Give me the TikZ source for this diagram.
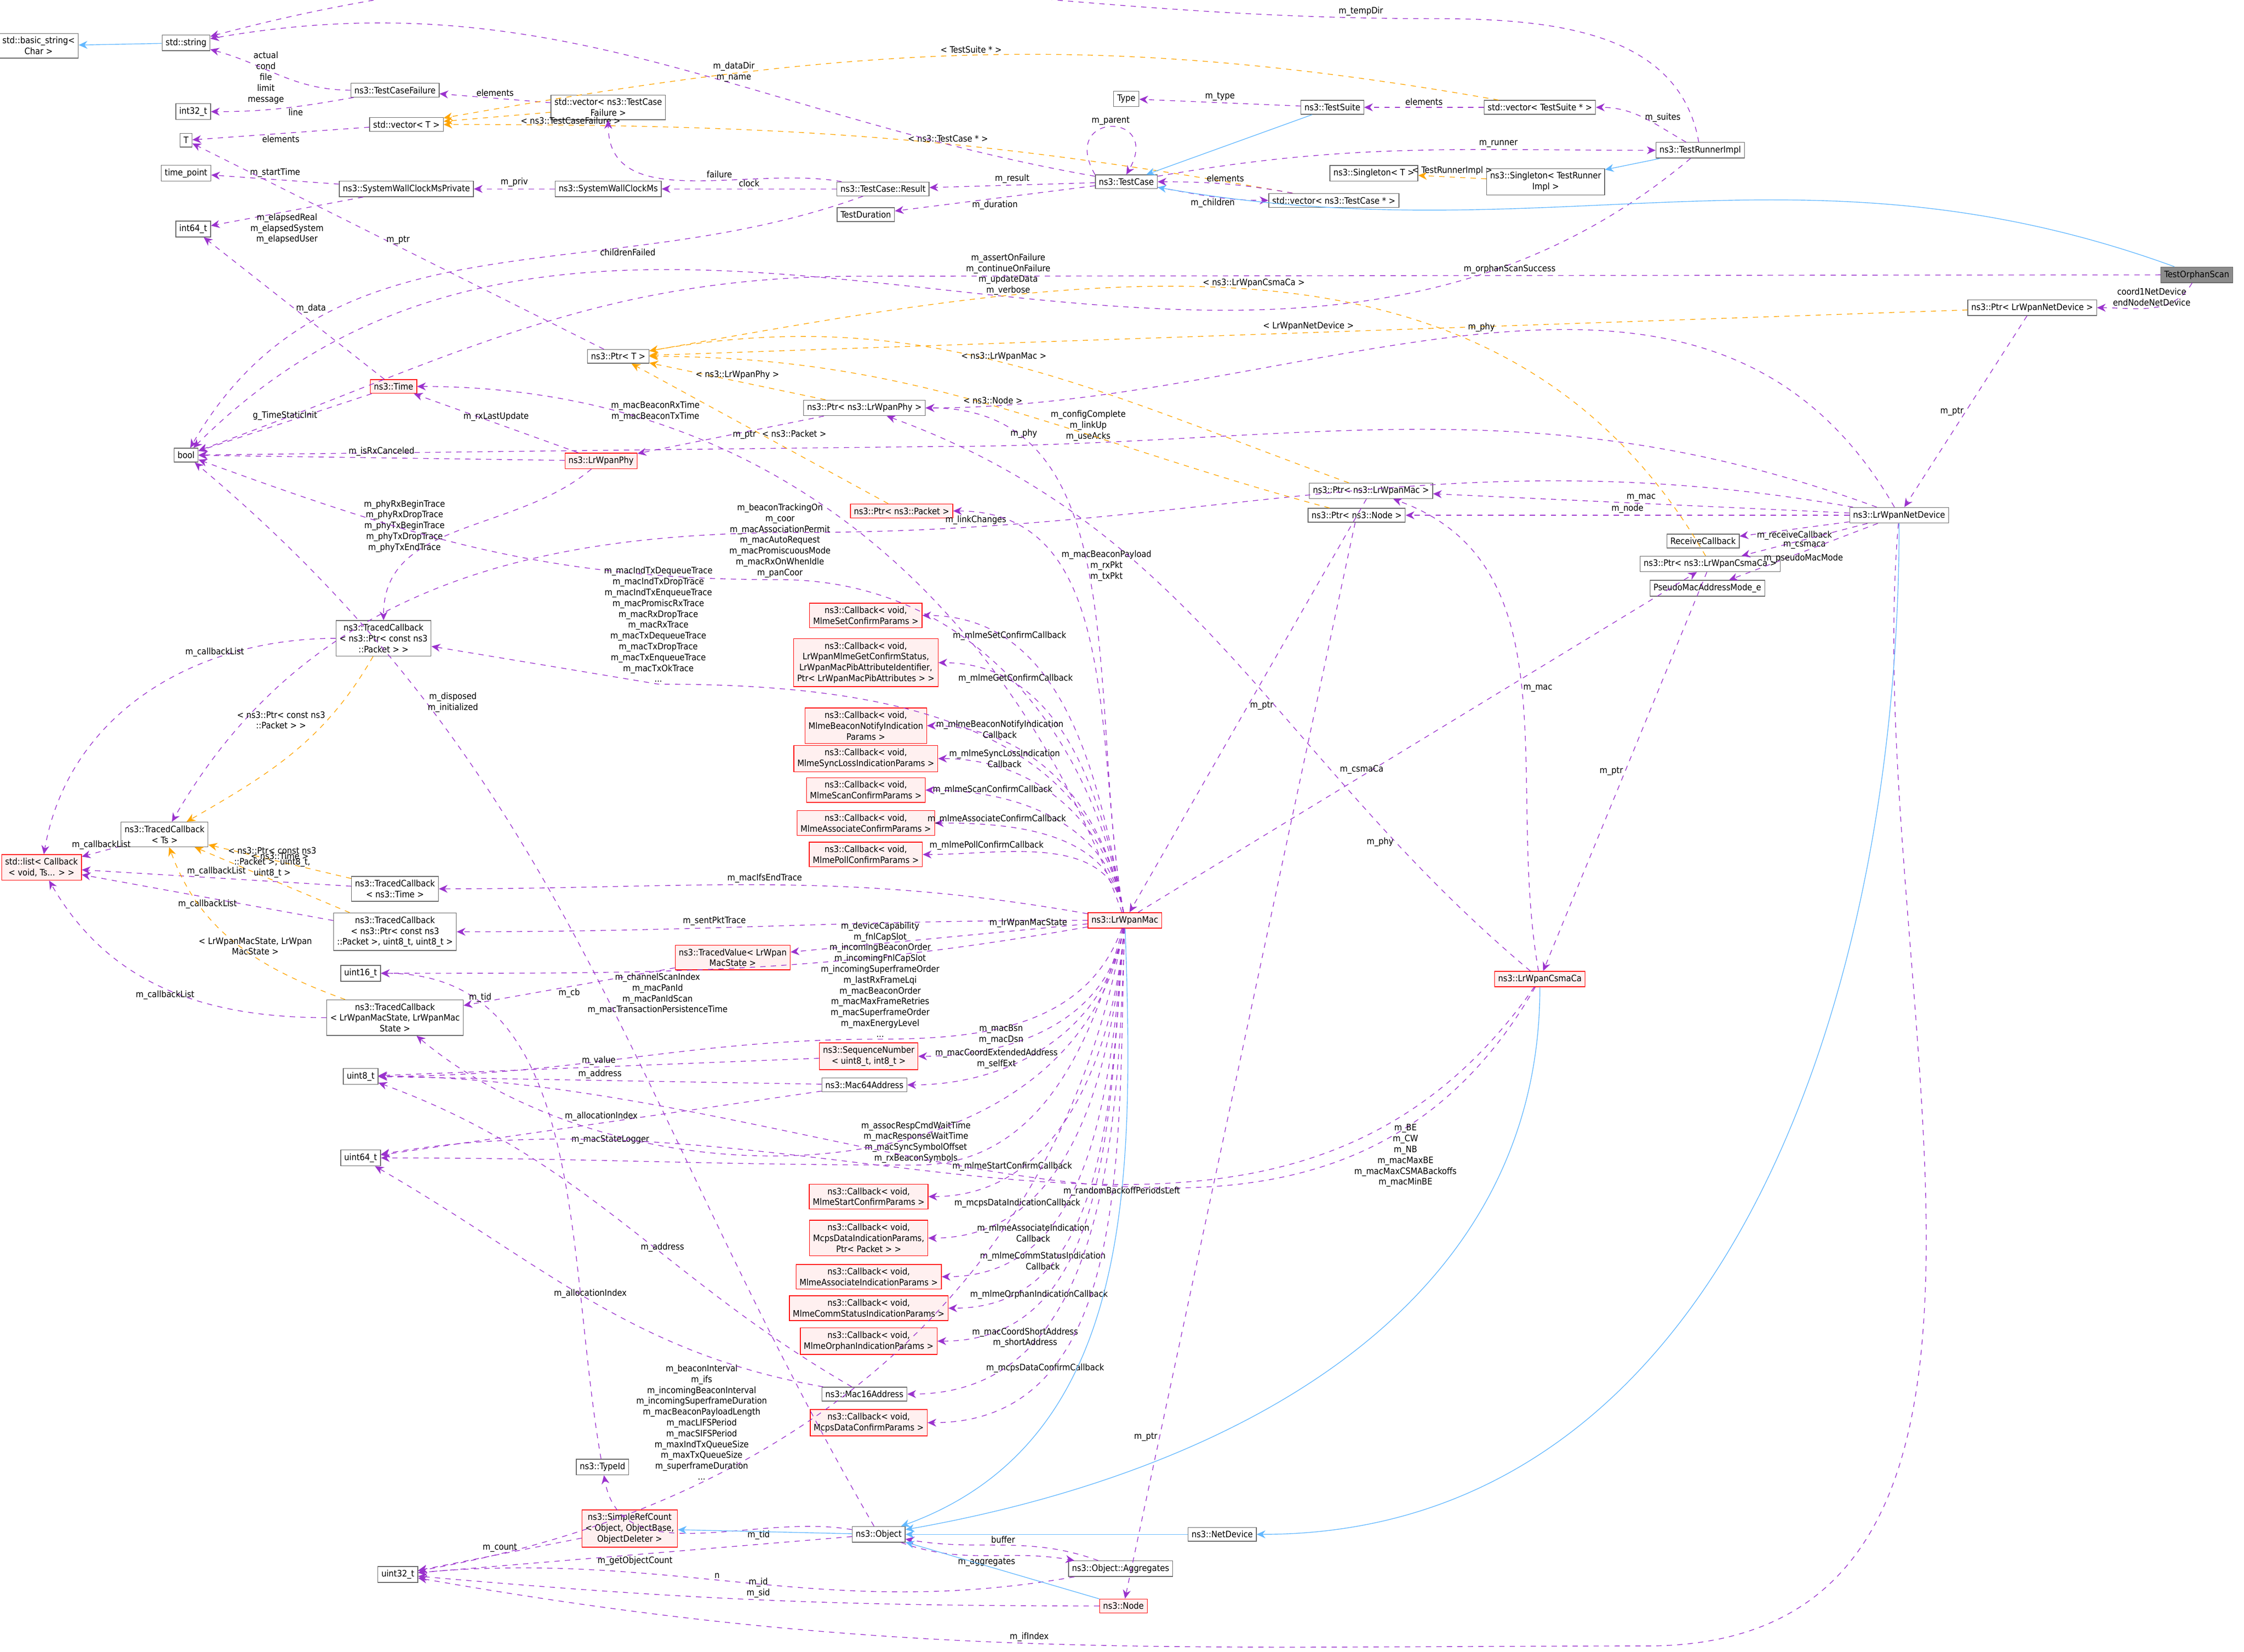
\documentclass[tikz,border=0pt]{standalone}
\usepackage{fontspec}
\setmainfont{DejaVu Sans Condensed}
\usetikzlibrary{arrows.meta}
\definecolor{depcol}{HTML}{9A32CD}
\definecolor{inhcol}{HTML}{63B8FF}
\definecolor{tplcol}{HTML}{FFA500}
\definecolor{redbox}{HTML}{FF0000}
\definecolor{redfill}{HTML}{FFF0F0}
\tikzset{
  cls/.style={draw=black!60, fill=white, align=center, inner sep=2pt, font=\fontsize{5.1}{6.2}\selectfont},
  rcls/.style={cls, draw=redbox, fill=redfill},
  cur/.style={cls, fill=black!45},
  dep/.style={draw=depcol, dashed, -{Stealth[length=5pt,width=4.5pt]}},
  inh/.style={draw=inhcol, -{Stealth[length=5pt,width=4.5pt]}},
  tpl/.style={draw=tplcol, dashed, -{Stealth[length=5pt,width=4.5pt]}},
  lbl/.style={align=center, font=\fontsize{5.1}{6.2}\selectfont, inner sep=1pt}
}
\begin{document}
\begin{tikzpicture}[x=0.02881cm, y=-0.02881cm]
\useasboundingbox (0,0) rectangle (1568,1154);
% classes
\node[cls] (bstr) at (27,32) {std::basic\_string<\\Char >};
\node[cls] (str) at (130,30) {std::string};
\node[cls] (int32) at (135,78) {int32\_t};
\node[cls] (tcf) at (276,63) {ns3::TestCaseFailure};
\node[cls] (vect) at (284,87) {std::vector< T >};
\node[cls] (T) at (130,98) {T};
\node[cls] (tpoint) at (130,121) {time\_point};
\node[cls] (swcmp) at (284,132) {ns3::SystemWallClockMsPrivate};
\node[cls] (int64) at (135,160) {int64\_t};
\node[cls] (vectcf) at (425,75) {std::vector< ns3::TestCase\\Failure >};
\node[cls] (swcm) at (425,132) {ns3::SystemWallClockMs};
\node[cls] (result) at (617,132) {ns3::TestCase::Result};
\node[cls] (tdur) at (605,150) {TestDuration};
\node[cls] (type) at (787,69) {Type};
\node[cls] (tsuite) at (931,75) {ns3::TestSuite};
\node[cls] (vects) at (1076,75) {std::vector< TestSuite * >};
\node[cls] (tcase) at (787,127) {ns3::TestCase};
\node[cls] (vectc) at (932,140) {std::vector< ns3::TestCase * >};
\node[cls] (singt) at (960,121) {ns3::Singleton< T >};
\node[cls] (singtri) at (1080,127) {ns3::Singleton< TestRunner\\Impl >};
\node[cls] (tri) at (1188,105) {ns3::TestRunnerImpl};
\node[cur] (orphan) at (1535,192) {TestOrphanScan};
\node[cls] (ptrnd) at (1420,215) {ns3::Ptr< LrWpanNetDevice >};
\node[cls] (bool) at (130,318) {bool};
\node[cls] (ptrt) at (432,249) {ns3::Ptr< T >};
\node[rcls] (time) at (275,270) {ns3::Time};
\node[rcls] (phy) at (420,322) {ns3::LrWpanPhy};
\node[cls] (ptrphy) at (604,285) {ns3::Ptr< ns3::LrWpanPhy >};
\node[rcls] (ptrpkt) at (630,357) {ns3::Ptr< ns3::Packet >};
\node[cls] (ptrmac) at (958,343) {ns3::Ptr< ns3::LrWpanMac >};
\node[cls] (ptrnode) at (948,360) {ns3::Ptr< ns3::Node >};
\node[cls] (rcb) at (1190,378) {ReceiveCallback};
\node[cls] (ptrcsma) at (1195,394) {ns3::Ptr< ns3::LrWpanCsmaCa >};
\node[cls] (pseudo) at (1193,411) {PseudoMacAddressMode\_e};
\node[cls] (netdev) at (1327,360) {ns3::LrWpanNetDevice};
\node[cls] (tcpkt) at (268,446) {ns3::TracedCallback\\< ns3::Ptr< const ns3\\::Packet > >};
\node[rcls] (cbset) at (605,430) {ns3::Callback< void,\\MlmeSetConfirmParams >};
\node[rcls] (cbget) at (605,463) {ns3::Callback< void,\\LrWpanMlmeGetConfirmStatus,\\LrWpanMacPibAttributeIdentifier,\\Ptr< LrWpanMacPibAttributes > >};
\node[rcls] (cbbeacon) at (605,507) {ns3::Callback< void,\\MlmeBeaconNotifyIndication\\Params >};
\node[rcls] (cbsync) at (605,530) {ns3::Callback< void,\\MlmeSyncLossIndicationParams >};
\node[rcls] (cbscan) at (605,552) {ns3::Callback< void,\\MlmeScanConfirmParams >};
\node[rcls] (cbassoc) at (605,575) {ns3::Callback< void,\\MlmeAssociateConfirmParams >};
\node[rcls] (cbpoll) at (605,597) {ns3::Callback< void,\\MlmePollConfirmParams >};
\node[cls] (tcts) at (115,583) {ns3::TracedCallback\\< Ts >};
\node[rcls] (list) at (29,606) {std::list< Callback\\< void, Ts... > >};
\node[cls] (tctime) at (276,621) {ns3::TracedCallback\\< ns3::Time >};
\node[cls] (tcpkt88) at (276,651) {ns3::TracedCallback\\< ns3::Ptr< const ns3\\::Packet >, uint8\_t, uint8\_t >};
\node[cls] (uint16) at (252,680) {uint16\_t};
\node[rcls] (tv) at (512,669) {ns3::TracedValue< LrWpan\\MacState >};
\node[cls] (tcstate) at (276,711) {ns3::TracedCallback\\< LrWpanMacState, LrWpanMac\\State >};
\node[rcls] (mac) at (786,643) {ns3::LrWpanMac};
\node[rcls] (seq) at (607,738) {ns3::SequenceNumber\\< uint8\_t, int8\_t >};
\node[cls] (uint8) at (252,752) {uint8\_t};
\node[cls] (mac64) at (604,758) {ns3::Mac64Address};
\node[cls] (uint64) at (252,809) {uint64\_t};
\node[rcls] (cbstart) at (607,836) {ns3::Callback< void,\\MlmeStartConfirmParams >};
\node[rcls] (cbdataind) at (607,865) {ns3::Callback< void,\\McpsDataIndicationParams,\\Ptr< Packet > >};
\node[rcls] (cbassocind) at (607,892) {ns3::Callback< void,\\MlmeAssociateIndicationParams >};
\node[rcls] (cbcomm) at (607,914) {ns3::Callback< void,\\MlmeCommStatusIndicationParams >};
\node[rcls] (cborphan) at (607,937) {ns3::Callback< void,\\MlmeOrphanIndicationParams >};
\node[cls] (mac16) at (604,974) {ns3::Mac16Address};
\node[rcls] (cbdataconf) at (607,994) {ns3::Callback< void,\\McpsDataConfirmParams >};
\node[cls] (typeid) at (421,1025) {ns3::TypeId};
\node[rcls] (src) at (440,1068) {ns3::SimpleRefCount\\< Object, ObjectBase,\\ObjectDeleter >};
\node[cls] (obj) at (614,1072) {ns3::Object};
\node[cls] (uint32) at (278,1100) {uint32\_t};
\node[cls] (aggr) at (783,1096) {ns3::Object::Aggregates};
\node[cls] (nd) at (854,1072) {ns3::NetDevice};
\node[rcls] (node) at (785,1122) {ns3::Node};
\node[rcls] (csma) at (1076,684) {ns3::LrWpanCsmaCa};
\coordinate (tempbend) at (1000,13);
\coordinate (scanbend) at (600,193);
\coordinate (cfgbend) at (650,312);
\coordinate (linkbend) at (560,372);
\coordinate (ifbend) at (1150,1150);
\coordinate (indbend) at (460,478);
\coordinate (coorbend) at (545,405);
\coordinate (devbend) at (615,726);
\coordinate (assocbend) at (640,814);
% test framework
\draw[inh] (str) -- (bstr);
\draw[dep] (tcf) to[out=180,in=-15] node[lbl,pos=0.45,left]{actual\\cond\\file\\limit\\message} (str);
\draw[dep] (tcf) to[out=190,in=0] node[lbl,pos=0.4,below]{line} (int32);
\draw[dep] (vectcf) -- node[lbl,midway,above]{elements} (tcf);
\draw[tpl] (vectcf) -- node[lbl,pos=0.3,below right]{< ns3::TestCaseFailure >} (vect);
\draw[tpl] (vects) to[out=170,in=10] node[lbl,pos=0.5,above]{< TestSuite * >} (vect);
\draw[tpl] (vectc) to[out=170,in=0] node[lbl,pos=0.4,above]{< ns3::TestCase * >} (vect);
\draw[dep] (vect) -- node[lbl,midway,below]{elements} (T);
\draw[dep] (swcmp) -- node[lbl,midway,above]{m\_startTime} (tpoint);
\draw[dep] (swcmp) -- node[lbl,midway,below]{m\_elapsedReal\\m\_elapsedSystem\\m\_elapsedUser} (int64);
\draw[dep] (swcm) -- node[lbl,midway,above]{m\_priv} (swcmp);
\draw[dep] (result) -- node[lbl,midway,above]{clock} (swcm);
\draw[dep] (result) to[out=170,in=-90] node[lbl,pos=0.4,above]{failure} (vectcf);
\draw[dep] (result) to[out=200,in=60] node[lbl,pos=0.3,below]{childrenFailed} (bool);
\draw[dep] (tcase) -- node[lbl,midway,above]{m\_result} (result);
\draw[dep] (tcase) -- node[lbl,midway,below]{m\_duration} (tdur);
\draw[dep] (tcase) to[out=170,in=10] node[lbl,pos=0.4,above]{m\_dataDir\\m\_name} (str);
\draw[dep] (tcase.north west) to[out=120,in=60,looseness=6] node[lbl,above]{m\_parent} (tcase.north);
\draw[dep] (tcase) to[out=-10,in=180] node[lbl,midway,below]{m\_children} (vectc);
\draw[dep] (vectc) to[out=170,in=0] node[lbl,midway,above]{elements} (tcase);
\draw[dep] (tcase) to[out=10,in=180] node[lbl,pos=0.7,above]{m\_runner} (tri);
\draw[dep] (tsuite) -- node[lbl,midway,above]{m\_type} (type);
\draw[inh] (tsuite) -- (tcase);
\draw[dep] (vects) -- node[lbl,midway,above]{elements} (tsuite);
\draw[dep] (tri) to[out=150,in=0] node[lbl,midway,right]{m\_suites} (vects);
\draw[dep] (tri) to[out=100,in=0] (tempbend) to[out=180,in=15] node[lbl,pos=0.05,above]{m\_tempDir} (str);
\draw[dep] (tri) to[out=220,in=45] node[lbl,pos=0.45,above]{m\_assertOnFailure\\m\_continueOnFailure\\m\_updateData\\m\_verbose} (bool);
\draw[inh] (tri) -- (singtri);
\draw[tpl] (singtri) -- node[lbl,midway,above]{< TestRunnerImpl >} (singt);
% test case
\draw[dep] (orphan) -- node[lbl,midway,above]{m\_orphanScanSuccess} (scanbend) to[out=180,in=20] (bool);
\draw[dep] (orphan) to[out=-120,in=0] node[lbl,midway,above]{coord1NetDevice\\endNodeNetDevice} (ptrnd);
\draw[inh] (orphan) to[out=160,in=-10] (tcase);
\draw[tpl] (ptrnd) -- node[lbl,midway,above]{< LrWpanNetDevice >} (ptrt);
\draw[dep] (ptrnd) -- node[lbl,midway,left]{m\_ptr} (netdev);
% net device
\draw[dep] (netdev) to[out=120,in=0] node[lbl,pos=0.5,above]{m\_phy} (ptrphy);
\draw[dep] (netdev) -- node[lbl,midway,above]{m\_mac} (ptrmac);
\draw[dep] (netdev) -- node[lbl,midway,above]{m\_node} (ptrnode);
\draw[dep] (netdev) -- node[lbl,midway,below]{m\_receiveCallback} (rcb);
\draw[dep] (netdev) -- node[lbl,midway,below]{m\_csmaca} (ptrcsma);
\draw[dep] (netdev) -- node[lbl,midway,below]{m\_pseudoMacMode} (pseudo);
\draw[dep] (netdev) to[out=160,in=0] node[lbl,pos=0.85,above]{m\_configComplete\\m\_linkUp\\m\_useAcks} (cfgbend) -- (bool);
\draw[dep] (netdev) to[out=170,in=0] node[lbl,pos=0.85,above]{m\_linkChanges} (linkbend) to[out=180,in=60] (tcts);
\draw[dep] (netdev) to[out=-95,in=0] (ifbend) to[out=180,in=-10] node[lbl,pos=0.5,above]{m\_ifIndex} (uint32);
\draw[inh] (netdev) to[out=-90,in=0] (nd);
% pointers
\draw[tpl] (ptrphy) -- node[lbl,midway,above]{< ns3::LrWpanPhy >} (ptrt);
\draw[dep] (ptrphy) -- node[lbl,midway,right]{m\_ptr} (phy);
\draw[tpl] (ptrmac) to[out=160,in=10] node[lbl,pos=0.5,above]{< ns3::LrWpanMac >} (ptrt);
\draw[dep] (ptrmac) -- node[lbl,midway,right]{m\_ptr} (mac);
\draw[tpl] (ptrnode) to[out=165,in=0] node[lbl,pos=0.5,above]{< ns3::Node >} (ptrt);
\draw[dep] (ptrnode) -- node[lbl,pos=0.85,left]{m\_ptr} (node);
\draw[tpl] (ptrcsma) to[out=120,in=10] node[lbl,pos=0.5,above]{< ns3::LrWpanCsmaCa >} (ptrt);
\draw[dep] (ptrcsma) -- node[lbl,midway,left]{m\_ptr} (csma);
\draw[tpl] (ptrpkt) -- node[lbl,midway,right]{< ns3::Packet >} (ptrt);
\draw[dep] (ptrt) -- node[lbl,midway,above]{m\_ptr} (T);
\draw[dep] (time) -- node[lbl,midway,right]{m\_data} (int64);
\draw[dep] (time) -- node[lbl,midway,above]{g\_TimeStaticInit} (bool);
\draw[dep] (phy) -- node[lbl,midway,above]{m\_rxLastUpdate} (time);
\draw[dep] (phy) -- node[lbl,midway,above]{m\_isRxCanceled} (bool);
\draw[dep] (phy) to[out=220,in=90] node[lbl,pos=0.45,anchor=east,xshift=-14pt]{m\_phyRxBeginTrace\\m\_phyRxDropTrace\\m\_phyTxBeginTrace\\m\_phyTxDropTrace\\m\_phyTxEndTrace} (tcpkt);
% traced callbacks
\draw[tpl] (tcpkt) to[out=-120,in=30] node[lbl,pos=0.3,left]{< ns3::Ptr< const ns3\\::Packet > >} (tcts);
\draw[dep] (tcpkt) to[out=180,in=80] node[lbl,pos=0.3,above]{m\_callbackList} (list);
\draw[dep] (tcts) -- node[lbl,midway,above]{m\_callbackList} (list);
\draw[tpl] (tctime) -- node[lbl,midway,above]{< ns3::Time >} (tcts);
\draw[dep] (tctime) -- node[lbl,midway,above]{m\_callbackList} (list);
\draw[tpl] (tcpkt88) -- node[lbl,midway,above]{< ns3::Ptr< const ns3\\::Packet >, uint8\_t,\\uint8\_t >} (tcts);
\draw[dep] (tcpkt88) -- node[lbl,midway,below]{m\_callbackList} (list);
\draw[tpl] (tcstate) to[out=160,in=-70] node[lbl,pos=0.4,above]{< LrWpanMacState, LrWpan\\MacState >} (tcts);
\draw[dep] (tcstate) to[out=180,in=-60] node[lbl,midway,below]{m\_callbackList} (list);
\draw[dep] (tv) -- node[lbl,midway,below]{m\_cb} (tcstate);
% mac
\draw[dep] (mac) to[out=110,in=0] node[lbl,pos=0.75,above]{m\_macBeaconRxTime\\m\_macBeaconTxTime} (time);
\draw[dep] (mac) to[out=100,in=0] node[lbl,pos=0.8,above]{m\_phy} (ptrphy);
\draw[dep] (mac) to[out=100,in=0] node[lbl,pos=0.7,right]{m\_macBeaconPayload\\m\_rxPkt\\m\_txPkt} (ptrpkt);
\draw[dep] (mac) to[out=100,in=0] (coorbend) node[lbl,above]{m\_beaconTrackingOn\\m\_coor\\m\_macAssociationPermit\\m\_macAutoRequest\\m\_macPromiscuousMode\\m\_macRxOnWhenIdle\\m\_panCoor} to[out=180,in=-20] (bool);
\draw[dep] (mac) to[out=100,in=0] (indbend) node[lbl,above]{m\_macIndTxDequeueTrace\\m\_macIndTxDropTrace\\m\_macIndTxEnqueueTrace\\m\_macPromiscRxTrace\\m\_macRxDropTrace\\m\_macRxTrace\\m\_macTxDequeueTrace\\m\_macTxDropTrace\\m\_macTxEnqueueTrace\\m\_macTxOkTrace\\...} -- (tcpkt);
\draw[dep] (mac) to[out=100,in=0] node[lbl,pos=0.75,above]{m\_mlmeSetConfirmCallback} (cbset);
\draw[dep] (mac) to[out=100,in=0] node[lbl,pos=0.75,above]{m\_mlmeGetConfirmCallback} (cbget);
\draw[dep] (mac) to[out=100,in=0] node[lbl,pos=0.75,above]{m\_mlmeBeaconNotifyIndication\\Callback} (cbbeacon);
\draw[dep] (mac) to[out=100,in=0] node[lbl,pos=0.75,above]{m\_mlmeSyncLossIndication\\Callback} (cbsync);
\draw[dep] (mac) to[out=100,in=0] node[lbl,pos=0.75,above]{m\_mlmeScanConfirmCallback} (cbscan);
\draw[dep] (mac) to[out=100,in=0] node[lbl,pos=0.75,above]{m\_mlmeAssociateConfirmCallback} (cbassoc);
\draw[dep] (mac) to[out=100,in=0] node[lbl,pos=0.75,above]{m\_mlmePollConfirmCallback} (cbpoll);
\draw[dep] (mac) to[out=170,in=0] node[lbl,pos=0.5,above]{m\_macIfsEndTrace} (tctime);
\draw[dep] (mac) to[out=180,in=0] node[lbl,pos=0.6,above]{m\_sentPktTrace} (tcpkt88);
\draw[dep] (mac) to[out=190,in=0] node[lbl,pos=0.62,below]{m\_channelScanIndex\\m\_macPanId\\m\_macPanIdScan\\m\_macTransactionPersistenceTime} (uint16);
\draw[dep] (mac) -- node[lbl,pos=0.2,above]{m\_lrWpanMacState} (tv);
\draw[dep] (mac) to[out=-110,in=0] (devbend) node[lbl,above]{m\_deviceCapability\\m\_fnlCapSlot\\m\_incomingBeaconOrder\\m\_incomingFnlCapSlot\\m\_incomingSuperframeOrder\\m\_lastRxFrameLqi\\m\_macBeaconOrder\\m\_macMaxFrameRetries\\m\_macSuperframeOrder\\m\_maxEnergyLevel\\...} to[out=180,in=0] (uint8);
\draw[dep] (mac) to[out=-100,in=0] node[lbl,pos=0.7,above]{m\_macBsn\\m\_macDsn} (seq);
\draw[dep] (mac) to[out=-100,in=0] node[lbl,pos=0.7,above]{m\_macCoordExtendedAddress\\m\_selfExt} (mac64);
\draw[dep] (mac) to[out=-105,in=0] (assocbend) node[lbl,above]{m\_assocRespCmdWaitTime\\m\_macResponseWaitTime\\m\_macSyncSymbolOffset\\m\_rxBeaconSymbols} to[out=180,in=0] (uint64);
\draw[dep] (mac) to[out=-95,in=0] node[lbl,pos=0.75,above]{m\_mlmeStartConfirmCallback} (cbstart);
\draw[dep] (mac) to[out=-95,in=0] node[lbl,pos=0.75,above]{m\_mcpsDataIndicationCallback} (cbdataind);
\draw[dep] (mac) to[out=-95,in=0] node[lbl,pos=0.75,above]{m\_mlmeAssociateIndication\\Callback} (cbassocind);
\draw[dep] (mac) to[out=-95,in=0] node[lbl,pos=0.75,above]{m\_mlmeCommStatusIndication\\Callback} (cbcomm);
\draw[dep] (mac) to[out=-95,in=0] node[lbl,pos=0.75,above]{m\_mlmeOrphanIndicationCallback} (cborphan);
\draw[dep] (mac) to[out=-92,in=0] node[lbl,pos=0.75,above]{m\_macCoordShortAddress\\m\_shortAddress} (mac16);
\draw[dep] (mac) to[out=-92,in=0] node[lbl,pos=0.75,above]{m\_mcpsDataConfirmCallback} (cbdataconf);
\draw[dep] (mac) to[out=-100,in=10] node[lbl,pos=0.72,above]{m\_beaconInterval\\m\_ifs\\m\_incomingBeaconInterval\\m\_incomingSuperframeDuration\\m\_macBeaconPayloadLength\\m\_macLIFSPeriod\\m\_macSIFSPeriod\\m\_maxIndTxQueueSize\\m\_maxTxQueueSize\\m\_superframeDuration\\...} (uint32);
\draw[dep] (mac) to[out=-100,in=-40] node[lbl,pos=0.75,below]{m\_macStateLogger} (tcstate);
\draw[dep] (mac) -- node[lbl,pos=0.4,above]{m\_csmaCa} (ptrcsma);
\draw[inh] (mac) to[out=-88,in=20] (obj);
% csma
\draw[dep] (csma) to[out=100,in=-20] node[lbl,pos=0.5,right]{m\_mac} (ptrmac);
\draw[dep] (csma) to[out=140,in=-20] node[lbl,pos=0.2,left]{m\_phy} (ptrphy);
\draw[dep] (csma) to[out=-120,in=0] node[lbl,pos=0.22,right]{m\_BE\\m\_CW\\m\_NB\\m\_macMaxBE\\m\_macMaxCSMABackoffs\\m\_macMinBE} (uint8);
\draw[dep] (csma) to[out=-125,in=10] node[lbl,pos=0.42,below]{m\_randomBackoffPeriodsLeft} (uint64);
\draw[inh] (csma) to[out=-90,in=10] (obj);
% addresses and objects
\draw[dep] (seq) -- node[lbl,midway,above]{m\_value} (uint8);
\draw[dep] (mac64) -- node[lbl,midway,above]{m\_address} (uint8);
\draw[dep] (mac64) -- node[lbl,midway,above]{m\_allocationIndex} (uint64);
\draw[dep] (mac16) to[out=150,in=-20] node[lbl,pos=0.4,above]{m\_address} (uint8);
\draw[dep] (mac16) to[out=170,in=-30] node[lbl,pos=0.5,above]{m\_allocationIndex} (uint64);
\draw[dep] (typeid) to[out=100,in=0] node[lbl,pos=0.8,above]{m\_tid} (uint16);
\draw[dep] (obj) to[out=170,in=-80] node[lbl,pos=0.3,below]{m\_tid} (typeid);
\draw[dep] (obj) to[out=120,in=-40] node[lbl,pos=0.75,right]{m\_disposed\\m\_initialized} (bool);
\draw[dep] (obj) to[out=-20,in=170] node[lbl,midway,below]{m\_aggregates} (aggr);
\draw[dep] (aggr) to[out=160,in=-10] node[lbl,midway,above]{buffer} (obj);
\draw[dep] (aggr) to[out=190,in=5] node[lbl,pos=0.55,above]{n} (uint32);
\draw[dep] (obj) -- node[lbl,midway,below]{m\_getObjectCount} (uint32);
\draw[dep] (src) -- node[lbl,midway,above]{m\_count} (uint32);
\draw[inh] (obj) -- (src);
\draw[inh] (node) -- (obj);
\draw[inh] (nd) -- (obj);
\draw[dep] (node) to[out=180,in=-5] node[lbl,pos=0.5,above]{m\_id\\m\_sid} (uint32);
\end{tikzpicture}
\end{document}
